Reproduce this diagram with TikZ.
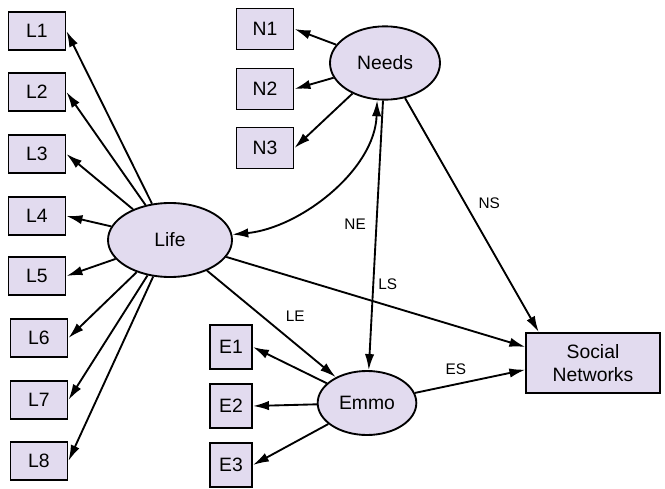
\documentclass[tikz,border=0pt]{standalone}
\usepackage{fontspec}
\setmainfont{Liberation Sans}
\usetikzlibrary{shapes.geometric,arrows.meta}
\definecolor{latfill}{RGB}{226,219,239}

\begin{document}
\begin{tikzpicture}[x=0.75pt,y=-0.75pt,
  obs/.style={draw,line width=1.4pt,fill=latfill,inner sep=0pt,minimum width=42.75pt,minimum height=28.5pt,font=\fontsize{14.5}{17}\selectfont},
  lat/.style={ellipse,draw,line width=1.4pt,fill=latfill,inner sep=0pt,font=\fontsize{14.5}{17}\selectfont},
  arr/.style={line width=1.4pt,-{Latex[length=12pt,width=7pt]}},
  dbl/.style={line width=1.4pt,{Latex[length=12pt,width=7pt]}-{Latex[length=12pt,width=7pt]}},
  lab/.style={font=\fontsize{11.5}{13}\selectfont}]

\useasboundingbox (0,0) rectangle (665,489);
\fill[white] (0,0) rectangle (665,489);

%latent variables
\node[lat,minimum width=93pt,minimum height=55.5pt] (life) at (170,240) {Life};
\node[lat,minimum width=82.5pt,minimum height=55pt] (needs) at (385,63) {Needs};
\node[lat,minimum width=74pt,minimum height=48pt] (emmo) at (367,403) {Emmo};

%observed variables
\foreach \i/\x/\y in {1/37/31, 2/37/92, 3/37/154, 4/37/216, 5/37/276, 6/39/338, 7/39/400, 8/39/461}
  \node[obs] (L\i) at (\x,\y) {L\i};
\foreach \i/\y in {1/29, 2/89, 3/148}
  \node[obs,minimum height=30.75pt] (N\i) at (265,\y) {N\i};
\foreach \i/\y in {1/347, 2/406, 3/465}
  \node[obs,minimum width=31.5pt,minimum height=33pt] (E\i) at (231,\y) {E\i};
\node[obs,minimum width=100pt,minimum height=45pt,align=center] (sn) at (593,363) {Social\\Networks};

%loadings
\foreach \i in {1,...,8}
  \draw[arr] (life) -- (L\i.east);
\foreach \i in {1,2,3}
  \draw[arr] (needs) -- (N\i.east);
\foreach \i in {1,2,3}
  \draw[arr] (emmo) -- (E\i.east);

%covariance
\draw[dbl] (life.5) .. controls (300,228) and (375,170) .. (needs.258);

%structural paths
\draw[arr] (needs) -- node[lab,pos=0.46,left=4pt] {NE} (emmo);
\draw[arr] (needs) -- node[lab,pos=0.45,right=6pt] {NS} ([xshift=10pt]sn.north west);
\draw[arr] (life) -- node[lab,pos=0.54,above=8pt] {LS} ([yshift=12pt]sn.west);
\draw[arr] (life) -- node[lab,pos=0.55,above right=2pt] {LE} (emmo);
\draw[arr] (emmo) -- node[lab,pos=0.37,above=3pt] {ES} ([yshift=-5pt]sn.west);

\end{tikzpicture}
\end{document}
